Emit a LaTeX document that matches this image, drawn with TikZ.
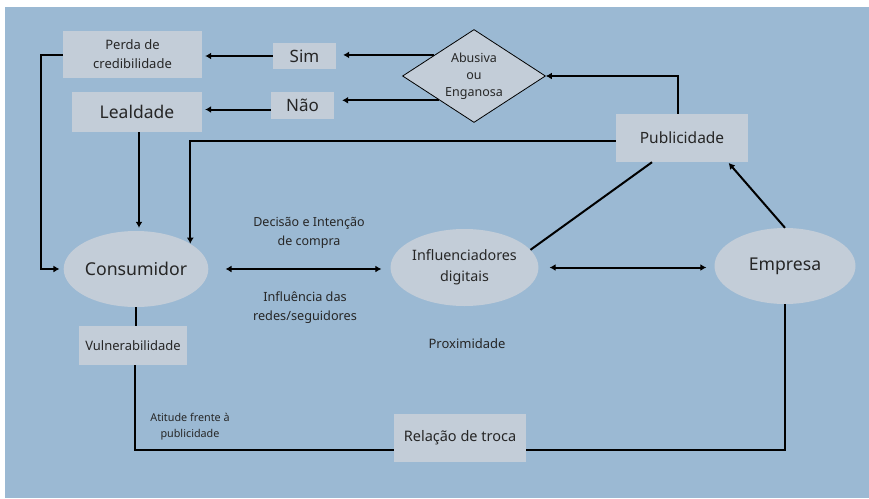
\documentclass[tikz,border=0pt]{standalone}
\usepackage{fontspec}
\setmainfont{Noto Sans}
\usetikzlibrary{shapes.geometric,arrows.meta,calc}
\definecolor{bgblue}{HTML}{9BB9D3}
\definecolor{boxgray}{HTML}{C3CDD8}
\definecolor{txt}{HTML}{262626}
\begin{document}
\begin{tikzpicture}[x=1pt,y=-1pt,
  box/.style={rectangle,fill=boxgray,inner sep=0pt,text=txt,align=center},
  oval/.style={ellipse,fill=boxgray,inner sep=0pt,text=txt,align=center},
  lbl/.style={inner sep=0pt,text=txt,align=center},
  conn/.style={line width=2pt,black},
  arr/.style={conn,-{Latex[length=6pt,width=7pt]}},
  darr/.style={conn,{Latex[length=6pt,width=7pt]}-{Latex[length=6pt,width=7pt]}},
  fs/.style 2 args={font=\fontsize{#1}{#2}\selectfont}]
\useasboundingbox (0,0) rectangle (869,498);
\fill[white] (0,0) rectangle (869,498);
\fill[bgblue] (5,7) rectangle (869,498);

% nodes
\node[box,minimum width=139,minimum height=47,fs={13}{19}] (perda) at (132.5,54.5) {Perda de\\credibilidade};
\node[box,minimum width=63,minimum height=26,fs={17}{20}] (sim) at (304.5,56) {Sim};
\node[box,minimum width=130,minimum height=40,fs={17.5}{20}] (lealdade) at (137,112) {Lealdade};
\node[box,minimum width=63,minimum height=27,fs={17}{20}] (nao) at (302.5,105.5) {Não};
\node[diamond,draw=black,line width=0.8pt,fill=boxgray,minimum width=143,minimum height=93,inner sep=0pt,aspect=1.54,text=txt,align=center,fs={12.5}{17}] (diamond) at (474,76) {Abusiva\\ou\\Enganosa};
\node[box,minimum width=132,minimum height=48,fs={15.5}{18}] (publicidade) at (682,138) {Publicidade};
\node[oval,minimum width=140,minimum height=76,fs={17.7}{20}] (consumidor) at (136,269) {Consumidor};
\node[oval,minimum width=141,minimum height=77,fs={14.3}{21}] (influenciadores) at (464.5,267.5) {Influenciadores\\digitais};
\node[oval,minimum width=141,minimum height=76,fs={17.6}{20}] (empresa) at (785,266) {Empresa};
\node[box,minimum width=108,minimum height=39,fs={13}{16}] (vulnerab) at (133,345.5) {Vulnerabilidade};
\node[box,minimum width=132,minimum height=48,fs={14.5}{17}] (relacao) at (460,438) {Relação de troca};

% free labels
\node[lbl,fs={12.5}{19}] (decisao) at (309,232.5) {Decisão e Intenção\\de compra};
\node[lbl,fs={12.7}{19}] (influencia) at (305,307.5) {Influência das\\redes/seguidores};
\node[lbl,fs={13}{16}] (proximidade) at (467,344) {Proximidade};
\node[lbl,fs={10.8}{16}] (atitude) at (190,427) {Atitude frente à\\publicidade};

% connectors
\draw[arr,shorten >=7pt] (diamond.152) -- (sim.east |- diamond.152);
\draw[arr,shorten >=3pt] (sim.west) -- (sim.west -| perda.east);
\draw[arr,shorten >=8pt] (diamond.215) -- (nao.east |- diamond.215);
\draw[arr,shorten >=3pt] ([yshift=-4pt]nao.west) -- ([yshift=-4pt]nao.west -| lealdade.east);
\draw[arr] ([xshift=-4pt]publicidade.north) |- (diamond.east);
\draw[arr] ([yshift=-3pt]publicidade.west) -| (consumidor.25);
\draw[arr,shorten >=3pt] ([xshift=2pt]lealdade.south) -- ([xshift=2pt]lealdade.south |- consumidor.north);
\draw[arr,shorten >=4pt] (perda.west) -- ++(-22,0) |- (consumidor.west);
\draw[darr,shorten <=17pt,shorten >=9pt] (consumidor.east) -- (consumidor.east -| influenciadores.west);
\draw[darr,shorten <=11pt,shorten >=8pt] (influenciadores.east) -- (influenciadores.east -| empresa.west);
\draw[conn] ([xshift=-30pt]publicidade.south) -- (influenciadores.15);
\draw[arr,shorten >=1pt] (empresa.north) -- ([xshift=46pt]publicidade.south);
\draw[conn] (consumidor.south) -- (consumidor.south |- vulnerab.north);
\draw[conn] ([xshift=2pt]vulnerab.south) |- ([yshift=-12pt]relacao.west);
\draw[conn] ([yshift=-12pt]relacao.east) -| (empresa.south);
\end{tikzpicture}
\end{document}
